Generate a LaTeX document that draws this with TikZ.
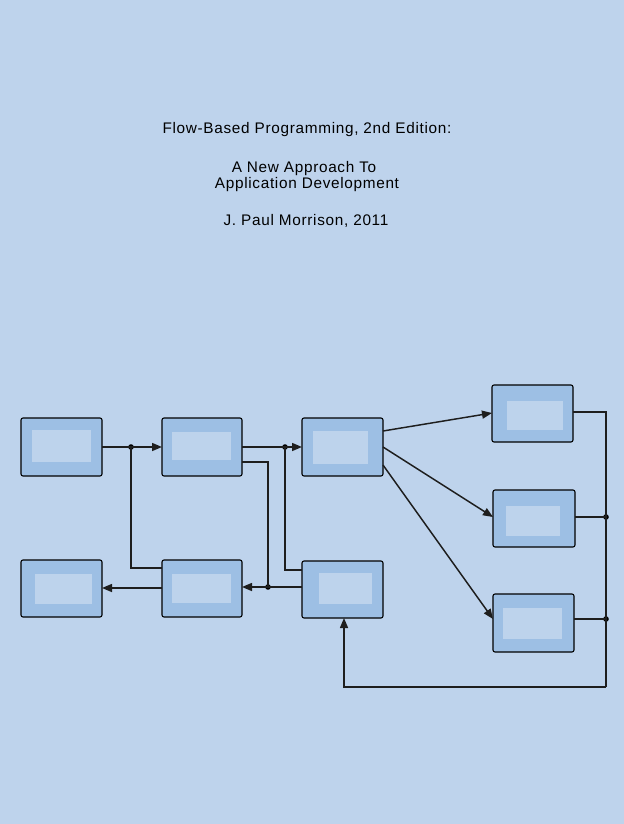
\documentclass[tikz,border=0pt]{standalone}
\usepackage{fontspec}
\setmainfont{Liberation Sans}
\usetikzlibrary{arrows.meta,fit}
\definecolor{bg}{HTML}{BED3EC}
\definecolor{boxfill}{HTML}{9DBFE4}
\definecolor{innerfill}{HTML}{BDD3EC}
\definecolor{wire}{HTML}{1E1E1E}
\tikzset{
  box/.style={draw=black, line width=0.8pt, fill=boxfill, rounded corners=1.5pt, inner sep=0pt},
  innerbox/.style={fill=innerfill, inner sep=0pt},
  wireline/.style={draw=wire, line width=1.1pt},
  arr/.style={wireline, -{Triangle[length=7.5pt,width=6pt]}},
  junction/.style={circle, fill=black, inner sep=0pt, minimum size=4.2pt},
  titletext/.style={anchor=base, font=\fontsize{11.5pt}{13pt}\selectfont\addfontfeature{LetterSpace=4.5}, text=black, inner sep=0pt}
}
\begin{document}
\begin{tikzpicture}[x=0.75pt,y=-0.75pt]
\fill[bg] (0,0) rectangle (624,824);
\useasboundingbox (0,0) rectangle (624,824);

% title text
\node[titletext] (t1) at (307,133) {Flow-Based Programming, 2nd Edition:};
\node[titletext] (t2) at (304,172) {A New Approach To};
\node[titletext] (t3) at (307,188) {Application Development};
\node[titletext] (t4) at (306,225) {J. Paul Morrison, 2011};

% boxes
\node[box, fit={(21,418)(102,476)}] (A) {};
\node[box, fit={(162,418)(242,476)}] (B) {};
\node[box, fit={(302,418)(383,476)}] (C) {};
\node[box, fit={(21,560)(102,617)}] (D) {};
\node[box, fit={(162,560)(242,617)}] (E) {};
\node[box, fit={(302,561)(383,618)}] (F) {};
\node[box, fit={(492,385)(573,442)}] (G) {};
\node[box, fit={(493,490)(575,547)}] (H) {};
\node[box, fit={(493,594)(574,652)}] (I) {};

% inner panels
\node[innerbox, fit={(32,430)(91,462)}] (Ai) {};
\node[innerbox, fit={(172,432)(231,460)}] (Bi) {};
\node[innerbox, fit={(313,431)(368,464)}] (Ci) {};
\node[innerbox, fit={(35,574)(92,604)}] (Di) {};
\node[innerbox, fit={(172,574)(231,603)}] (Ei) {};
\node[innerbox, fit={(319,573)(372,604)}] (Fi) {};
\node[innerbox, fit={(507,401)(563,430)}] (Gi) {};
\node[innerbox, fit={(506,506)(560,536)}] (Hi) {};
\node[innerbox, fit={(503,608)(562,639)}] (Ii) {};

% ports and junction points
\coordinate (Ao) at (102,447);
\coordinate (Bin) at (162,447);
\coordinate (Bo) at (242,447);
\coordinate (Bo2) at (242,462);
\coordinate (Cin) at (302,447);
\coordinate (Eo2) at (162,568);
\coordinate (Ein) at (242,587);
\coordinate (Eo) at (162,588);
\coordinate (Din) at (102,588);
\coordinate (Fo) at (302,587);
\coordinate (Fo2) at (302,570);
\coordinate (Fin) at (344,618);
\coordinate (Co1) at (383,431);
\coordinate (Co2) at (383,447);
\coordinate (Co3) at (383,465);
\coordinate (Gin) at (492,413);
\coordinate (Hin) at (493,517);
\coordinate (Iin) at (493,619);
\coordinate (Go) at (573,412);
\coordinate (Ho) at (575,517);
\coordinate (Io) at (574,619);
\coordinate (bus) at (606,687);
\node[junction] (j1) at (131,447) {};
\node[junction] (j2) at (285,447) {};
\node[junction] (j3) at (268,587) {};
\node[junction] (j4) at (606,517) {};
\node[junction] (j5) at (606,619) {};

% connectors
\draw[arr] (Ao) -- (Bin);
\draw[wireline] (Eo2) -| (j1.center);
\draw[arr] (Bo) -- (Cin);
\draw[wireline] (Bo2) -| (j3.center);
\draw[arr] (Fo) -- (Ein);
\draw[wireline] (Fo2) -| (j2.center);
\draw[arr] (Eo) -- (Din);
\draw[arr] (Co1) -- (Gin);
\draw[arr] (Co2) -- (Hin);
\draw[arr] (Co3) -- (Iin);
\draw[wireline] (Go) -| (bus);
\draw[arr] (bus) -| (Fin);
\draw[wireline] (Ho) -- (j4.center);
\draw[wireline] (Io) -- (j5.center);
\end{tikzpicture}
\end{document}
